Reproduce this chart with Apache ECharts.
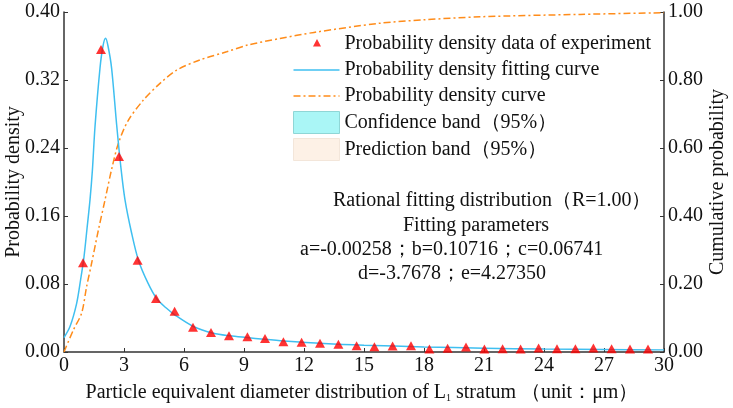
<!DOCTYPE html>
<html><head><meta charset="utf-8">
<script src="https://cdn.jsdelivr.net/npm/echarts@6/dist/echarts.min.js"></script>
<style>html,body{margin:0;padding:0;background:#fff}#c{width:733px;height:408px}</style>
</head><body><div id="c"></div>
<script>
// Experimental probability density points [x, y]
var expX = [0.95,1.85,2.75,3.68,4.6,5.53,6.45,7.35,8.25,9.17,10.05,10.97,11.88,12.8,13.72,14.63,15.52,16.43,17.35,18.27,19.18,20.1,21.02,21.93,22.83,23.73,24.65,25.57,26.47,27.38,28.3,29.2];
var expY = [0.105,0.356,0.230,0.108,0.063,0.048,0.029,0.023,0.019,0.018,0.016,0.012,0.0114,0.0102,0.0091,0.0075,0.0063,0.0071,0.0075,0.0035,0.0043,0.0059,0.0035,0.0039,0.0035,0.0047,0.0039,0.0039,0.0047,0.0039,0.0035,0.0035];
// Fitting curve
var fitX = [0,0.3,0.63,0.83,1.0,1.15,1.3,1.42,1.55,1.8,1.95,2.08,2.2,2.38,2.63,2.85,3.05,3.38,3.72,4.2,4.63,5.1,5.55,6.47,7.47,8.3,9.13,10,11,13,15,18,21,24,27,30];
var fitY = [0.017,0.030,0.057,0.085,0.112,0.145,0.179,0.214,0.265,0.334,0.360,0.369,0.360,0.334,0.268,0.216,0.179,0.140,0.108,0.081,0.063,0.052,0.0435,0.030,0.022,0.019,0.017,0.015,0.013,0.010,0.008,0.006,0.0045,0.0035,0.003,0.0025];
// Cumulative probability curve
var cumX = [0,0.47,0.88,1.13,1.38,1.72,2.05,2.38,2.72,3.2,3.97,4.8,5.63,6.8,8.13,9.2,10.8,12.5,15.8,18,20.8,25.8,30];
var cumY = [0,0.065,0.114,0.192,0.261,0.359,0.447,0.537,0.614,0.68,0.741,0.79,0.829,0.859,0.883,0.903,0.922,0.94,0.967,0.977,0.986,0.993,0.998];
var names = ['Probability density data of experiment','Probability density fitting curve','Probability density curve','Confidence band（95%）','Prediction band（95%）'];
var annot = ['Rational fitting distribution（R=1.00）','Fitting parameters','a=-0.00258；b=0.10716；c=0.06741','d=-3.7678；e=4.27350'];

function zip(a,b){return a.map(function(v,i){return [v,b[i]];});}
var FF = '"Liberation Serif"';
var chart = echarts.init(document.getElementById('c'));
var axisCommon = {
  axisLine:{show:true,lineStyle:{color:'#333',width:1.5}},
  axisTick:{show:true,inside:true,length:4,lineStyle:{color:'#333'}},
  splitLine:{show:false},
  nameMoveOverlap:false,
  axisLabel:{fontFamily:FF,fontSize:20,color:'#111',margin:4}
};
var solidIcon = 'path://M0,0 M46,22 M0,10.3 L46,10.3 L46,11.7 L0,11.7 Z';
var dashIcon = 'path://M0,0 M46,22 M0,10.3 h7 v1.4 h-7 Z M10,10.3 h2 v1.4 h-2 Z M15,10.3 h7 v1.4 h-7 Z M25,10.3 h2 v1.4 h-2 Z M30,10.3 h7 v1.4 h-7 Z M40,10.3 h2 v1.4 h-2 Z M45,10.3 h1 v1.4 h-1 Z';
chart.setOption({
  animation:false,
  textStyle:{fontFamily:FF},
  grid:{left:64,right:69,top:12,bottom:56,containLabel:false,outerBoundsMode:'none'},
  legend:{
    left:288, top:28, orient:'vertical', itemWidth:46, itemHeight:22, itemGap:4,
    textStyle:{fontFamily:FF,fontSize:20,color:'#111'},
    data:[
      {name:names[0], icon:'path://M0,0 M46,22 M19.5,13.5 L23.5,6 L27.5,13.5 Z'},
      {name:names[1], icon:solidIcon},
      {name:names[2], icon:dashIcon},
      {name:names[3], icon:'rect', itemStyle:{color:'#aaf6f6',borderColor:'#8fd6d6',borderWidth:1}},
      {name:names[4], icon:'rect', itemStyle:{color:'#fdf1e6',borderColor:'#f3e6da',borderWidth:1}}
    ]
  },
  xAxis:Object.assign({}, axisCommon, {
    type:'value', min:0, max:30, interval:3,
    name:'Particle equivalent diameter distribution of L{s|1} stratum （unit：μm）',
    nameLocation:'middle', nameGap:31,
    nameTextStyle:{fontFamily:FF,fontSize:20,color:'#111',padding:[0,4,0,0],rich:{s:{fontFamily:FF,fontSize:10,verticalAlign:'bottom',padding:[6,0,0,0]}}}
  }),
  yAxis:[
    Object.assign({}, axisCommon, {
      type:'value', min:0, max:0.4, interval:0.08,
      axisLabel:Object.assign({}, axisCommon.axisLabel, {formatter:function(v){return v.toFixed(2);}}),
      name:'Probability density', nameLocation:'middle', nameGap:40, nameRotate:90,
      nameTextStyle:{fontFamily:FF,fontSize:20,color:'#111'}
    }),
    Object.assign({}, axisCommon, {
      type:'value', min:0, max:1, interval:0.2, position:'right',
      axisLabel:Object.assign({}, axisCommon.axisLabel, {formatter:function(v){return v.toFixed(2);}}),
      name:'Cumulative probability', nameLocation:'middle', nameGap:44, nameRotate:90,
      nameTextStyle:{fontFamily:FF,fontSize:20,color:'#111'}
    })
  ],
  graphic:annot.map(function(t,i){
    var lefts=[333,403,300,358], ys=[202,227,251,275];
    return {type:'text', left:lefts[i], top:ys[i]-11, silent:true,
      style:{text:t, font:'20px "Liberation Serif"', fill:'#111'}};
  }),
  series:[
    {name:names[3], type:'line', data:[], symbol:'none', itemStyle:{color:'#aaf6f6'}},
    {name:names[4], type:'line', data:[], symbol:'none', itemStyle:{color:'#fdf1e6'}},
    {name:names[2], type:'line', yAxisIndex:1, data:zip(cumX,cumY), symbol:'none', smooth:0.3,
      lineStyle:{color:'#ff8c1a',width:1.5,type:[7,3,2,3]}, itemStyle:{color:'#ff8c1a'}, z:2},
    {name:names[1], type:'line', data:zip(fitX,fitY), symbol:'none', smooth:0.3,
      lineStyle:{color:'#3fbff0',width:1.5}, itemStyle:{color:'#3fbff0'}, z:3},
    {name:names[0], type:'scatter', data:zip(expX,expY), symbol:'triangle', symbolSize:[10,9],
      itemStyle:{color:'#ff0000'}, z:4}
  ]
});
</script></body></html>
